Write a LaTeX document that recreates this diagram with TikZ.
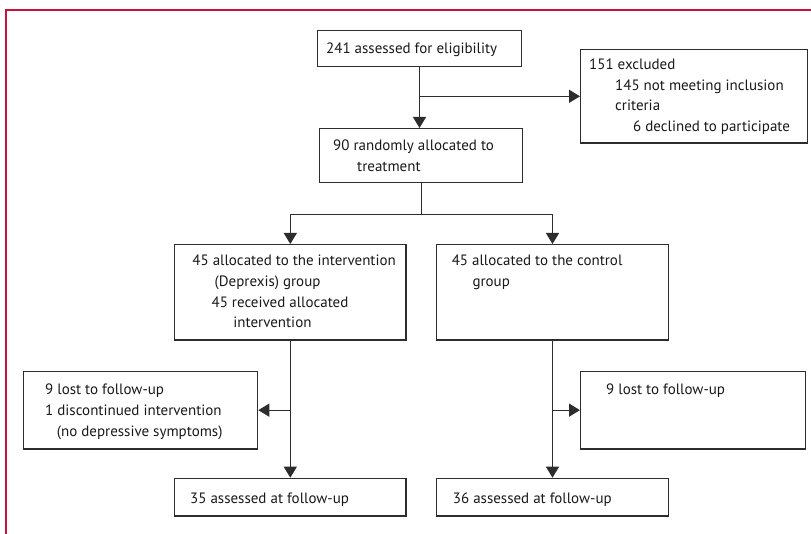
\documentclass[tikz,border=0pt]{standalone}
\usepackage{fontspec}
\setmainfont{PT Sans}
\usetikzlibrary{arrows.meta, positioning, calc}
\definecolor{lancetred}{RGB}{200, 18, 58}
\definecolor{boxline}{RGB}{45, 45, 45}
\definecolor{textgray}{RGB}{25, 25, 25}

\begin{document}
\begin{tikzpicture}[
	x=1pt, y=-1pt,
	>={Triangle[width=13pt, length=11pt]},
	font=\fontsize{15}{20.7}\selectfont,
	% Styles for the boxes and their text
	flowbox/.style={draw=boxline, line width=1.3pt, anchor=north west, inner sep=0pt, minimum height=#1},
	flowbox/.default=37.6pt,
	boxtext/.style={anchor=north west, inner sep=0pt, align=left, text=textgray},
	% Styles for connectors and frame
	link/.style={draw=boxline, line width=1.3pt},
	pageframe/.style={draw=lancetred, line width=1.3pt}
	]
	\useasboundingbox (0,0) rectangle (811,534);
	
	% ==========================================
	% PAGE FRAME
	% ==========================================
	\draw[pageframe] (811,10) -- (6,10) -- (6,534);
	
	% ==========================================
	% ENROLMENT
	% ==========================================
	\node[flowbox=35.7pt, minimum width=204.3pt] (elig) at (316.7,30) {};
	\node[boxtext] at (326,42.8) {241 assessed for eligibility};
	
	\node[flowbox=93.3pt, minimum width=227pt] (excl) at (580,49) {};
	\node[boxtext] at (589,58.5) {151 excluded\\
		\hspace*{26pt}145 not meeting inclusion\\
		\hspace*{26pt}criteria\\
		\hspace*{44pt}6 declined to participate};
	
	\node[flowbox=54pt, minimum width=203pt] (rand) at (319,128) {};
	\node[boxtext] at (333,139.5) {90 randomly allocated to\\
		\hspace*{24pt}treatment};
	
	% ==========================================
	% ALLOCATION
	% ==========================================
	\node[flowbox=95.3pt, minimum width=231.3pt] (intv) at (174,244) {};
	\node[boxtext] at (192.2,255) {45 allocated to the intervention\\
		\hspace*{22.3pt}(Deprexis) group\\
		\hspace*{19.2pt}45 received allocated\\
		\hspace*{41pt}intervention};
	
	\node[flowbox=95.3pt, minimum width=231.7pt] (ctrl) at (436,244) {};
	\node[boxtext] at (451.6,255) {45 allocated to the control\\
		\hspace*{20.7pt}group};
	
	% ==========================================
	% FOLLOW-UP
	% ==========================================
	\node[flowbox=77.6pt, minimum width=234.3pt] (lostI) at (22.7,370.7) {};
	\node[boxtext] at (45,383.8) {9 lost to follow-up\\
		1 discontinued intervention\\
		\hspace*{11.7pt}(no depressive symptoms)};
	
	\node[flowbox=77.6pt, minimum width=225pt] (lostC) at (580,370.7) {};
	\node[boxtext] at (606,383.8) {9 lost to follow-up};
	
	\node[flowbox, minimum width=231.3pt] (finI) at (174,477.7) {};
	\node[boxtext] at (190,492.5) {35 assessed at follow-up};
	
	\node[flowbox, minimum width=231.7pt] (finC) at (436,477.7) {};
	\node[boxtext] at (452.7,492.5) {36 assessed at follow-up};
	
	% ==========================================
	% CONNECTORS
	% ==========================================
	\coordinate (fork) at ($(rand.south)+(0,31.3)$);
	
	\draw[link, ->] (elig.south) -- (elig.south |- rand.north);
	\draw[link, ->] (elig.south |- excl.west) -- (excl.west);
	
	\draw[link] (rand.south) -- (fork);
	\draw[link, ->] (fork) -| (intv.north);
	\draw[link, ->] (fork) -| (ctrl.north);
	
	\draw[link, ->] (intv.south) -- (finI.north);
	\draw[link, ->] (intv.south |- lostI.east) -- (lostI.east);
	\draw[link, ->] (ctrl.south) -- (finC.north);
	\draw[link, ->] (ctrl.south |- lostC.west) -- (lostC.west);
	
\end{tikzpicture}
\end{document}
